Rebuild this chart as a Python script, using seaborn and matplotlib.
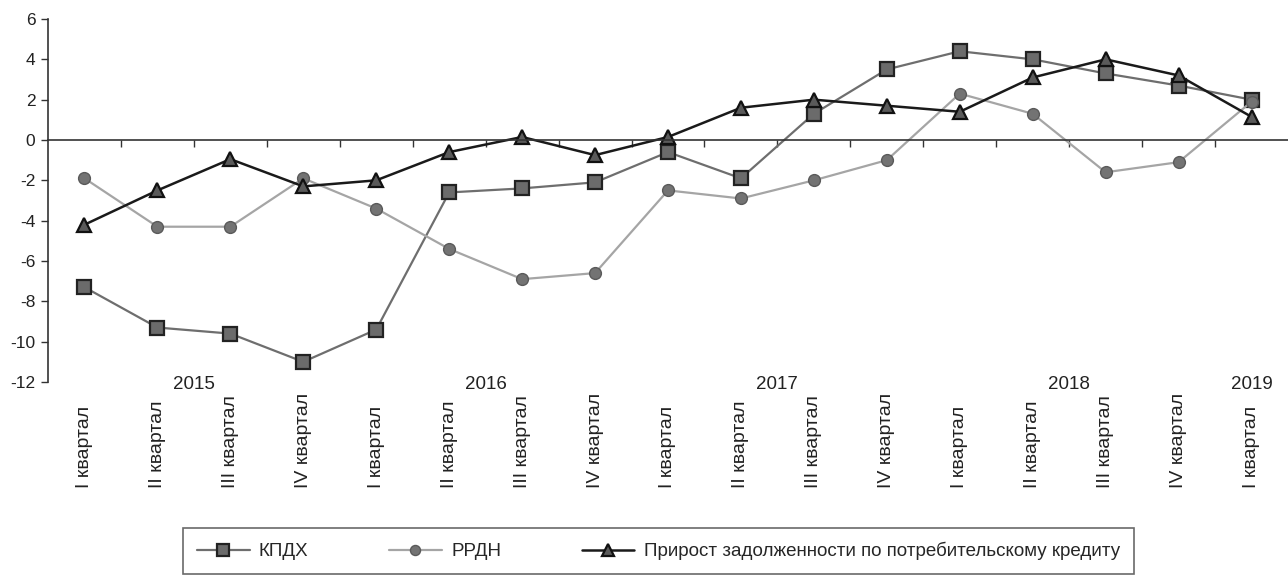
import numpy as np
import pandas as pd
import matplotlib
matplotlib.use("Agg")
import matplotlib.pyplot as plt
import matplotlib.transforms as mtransforms
import seaborn as sns

# --- Data ---
quarters = ["I квартал", "II квартал", "III квартал", "IV квартал",
            "I квартал", "II квартал", "III квартал", "IV квартал",
            "I квартал", "II квартал", "III квартал", "IV квартал",
            "I квартал", "II квартал", "III квартал", "IV квартал",
            "I квартал"]
quarter_years = [2015] * 4 + [2016] * 4 + [2017] * 4 + [2018] * 4 + [2019]

kpdh = [-7.3, -9.3, -9.6, -11.0, -9.4, -2.6, -2.4, -2.1, -0.6, -1.9,
        1.3, 3.5, 4.4, 4.0, 3.3, 2.7, 2.0]
rrdn = [-1.9, -4.3, -4.3, -1.9, -3.4, -5.4, -6.9, -6.6, -2.5, -2.9,
        -2.0, -1.0, 2.3, 1.3, -1.6, -1.1, 1.9]
credit = [-4.2, -2.5, -0.95, -2.3, -2.0, -0.6, 0.15, -0.75, 0.15, 1.6,
          2.0, 1.7, 1.4, 3.1, 4.0, 3.2, 1.15]

series_names = ["КПДХ", "РРДН", "Прирост задолженности по потребительскому кредиту"]
y_ticks = list(range(-12, 7, 2))

# --- Style ---
sns.set_style("white")
plt.rcParams["font.family"] = ["Liberation Sans", "DejaVu Sans"]
plt.rcParams["axes.unicode_minus"] = False

df = pd.DataFrame({"x": np.arange(len(quarters)), "kpdh": kpdh, "rrdn": rrdn, "credit": credit})

fig = plt.figure(figsize=(12.88, 5.76), dpi=100)
ax = fig.add_axes([48 / 1288, 1 - 382 / 576, 1240 / 1288, 363 / 576])

styles = [
    ("kpdh", dict(color="#6e6e6e", marker="s", markersize=9.5, markerfacecolor="#6b6b6b",
                  markeredgecolor="#222222", markeredgewidth=1.6, linewidth=1.6)),
    ("rrdn", dict(color="#a5a5a5", marker="o", markersize=8.5, markerfacecolor="#737373",
                  markeredgecolor="#5a5a5a", markeredgewidth=1.0, linewidth=1.6)),
    ("credit", dict(color="#1a1a1a", marker="^", markersize=9.5, markerfacecolor="#5a5a5a",
                    markeredgecolor="#111111", markeredgewidth=1.6, linewidth=1.8)),
]
for (col, kw), name in zip(styles, series_names):
    sns.lineplot(data=df, x="x", y=col, ax=ax, label=name, **kw)

ax.set_xlim(-0.5, len(quarters) - 0.5)
ax.set_ylim(-12, 6)
ax.set_yticks(y_ticks)
ax.set_xlabel("")
ax.set_ylabel("")

# spines: left axis + zero line acting as x axis
for s in ["top", "right"]:
    ax.spines[s].set_visible(False)
ax.spines["bottom"].set_position(("data", 0))
ax.spines["bottom"].set_color("#333333")
ax.spines["bottom"].set_linewidth(1.2)
ax.spines["left"].set_color("#333333")
ax.spines["left"].set_linewidth(1.2)

ax.set_xticks(np.arange(len(quarters) - 1) + 0.5)
ax.set_xticklabels([])
ax.tick_params(axis="x", bottom=True, direction="out", length=5, width=1, color="#333333")
ax.tick_params(axis="y", left=True, direction="out", length=5, width=1, color="#333333",
               labelsize=12.5, labelcolor="#222222", pad=4)

trans = mtransforms.blended_transform_factory(ax.transData, ax.transAxes)
for i, q in enumerate(quarters):
    ax.text(i, -0.292, q, rotation=90, ha="center", va="bottom", fontsize=14,
            color="#222222", transform=trans)

years = sorted(set(quarter_years))
for yr in years:
    idx = [i for i, y in enumerate(quarter_years) if y == yr]
    ax.text(np.mean(idx), -0.008, str(yr), ha="center", va="center", fontsize=13.5,
            color="#222222", transform=trans)

ax.get_legend().remove()
handles, labels = ax.get_legend_handles_labels()
leg = fig.legend(handles, labels, loc="upper left",
                 bbox_to_anchor=(183 / 1288, 1 - 528 / 576),
                 ncol=3, frameon=True, fancybox=False, edgecolor="#444444",
                 fontsize=13.5, handlelength=2.8, handletextpad=0.5, columnspacing=4.3,
                 borderaxespad=0, borderpad=0.75, markerscale=0.85)
leg.get_frame().set_linewidth(1.2)

fig.savefig("out.png", dpi=100)
